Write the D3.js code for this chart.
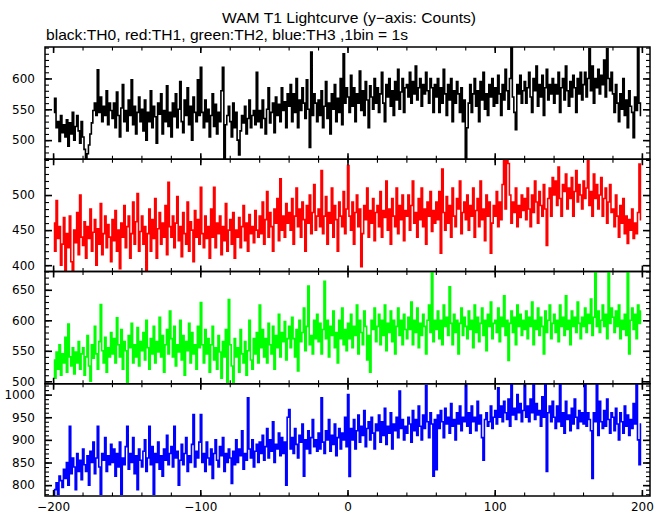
<!DOCTYPE html>
<html><head><meta charset="utf-8">
<script src="https://cdn.jsdelivr.net/npm/d3@7"></script>
<style>body{margin:0;background:#fff}svg{display:block}</style>
</head><body>
<script>
const title = "WAM T1 Lightcurve (y\u2212axis: Counts)";
const subtitle = "black:TH0, red:TH1, green:TH2, blue:TH3 ,1bin = 1s";
const timeStart = -199.5;   // centre of first 1 s bin
const binSize = 1;
const xTickLabels = [-200, -100, 0, 100, 200];

const th0 = [
545,568,520,530,498,540,512,525,505,533,490,528,510,545,500,522,540,515,495,530,
505,485,470,478,492,510,528,548,560,540,614,545,570,530,555,540,580,525,560,548,
535,560,520,578,540,505,552,590,530,548,515,565,540,598,525,555,510,545,570,530,
550,515,565,500,545,530,580,520,555,538,495,560,542,575,510,548,530,588,522,545,
505,560,538,575,520,550,595,530,512,565,540,585,525,555,500,570,545,530,598,540,
618,545,520,565,530,550,505,540,575,522,558,510,545,530,580,618,469,525,540,555,
530,505,560,520,545,500,476,515,540,528,555,510,535,565,520,540,548,525,610,530,
548,520,565,535,510,550,585,528,545,560,512,570,540,558,530,585,548,562,520,575,
555,590,530,575,545,600,520,565,548,585,560,535,598,550,488,643,540,575,560,530,
565,540,580,520,555,595,535,560,510,575,550,590,530,568,545,600,525,640,560,585,
570,545,605,555,585,530,575,560,612,548,580,540,595,565,520,588,570,550,600,560,
585,545,575,610,560,530,590,570,600,555,580,540,595,565,615,550,578,600,545,585,
590,570,610,560,595,575,620,565,585,600,555,590,575,610,580,560,600,585,545,590,
570,600,545,585,560,615,575,540,590,565,600,530,580,560,595,575,545,585,530,565,
469,520,560,590,545,575,600,555,580,530,595,565,610,550,575,540,590,570,600,555,
585,560,605,575,540,590,565,615,580,550,600,651,570,545,517,590,575,605,560,580,
595,560,585,610,570,545,600,580,620,555,590,570,605,540,585,615,565,590,575,600,
560,590,575,610,545,585,600,565,620,580,555,595,570,605,585,545,600,575,610,565,
590,610,570,600,648,580,620,560,600,585,615,575,605,590,630,570,648,600,580,610,
575,545,590,560,530,575,550,600,540,565,520,580,555,545,504,570,548,651,560,540];

const th1 = [
460,420,492,438,455,400,430,468,391,445,425,470,405,392,450,432,475,415,500,440,
428,462,410,455,438,480,420,447,465,400,452,430,488,415,445,470,425,458,440,405,
465,435,478,420,450,395,460,440,485,425,455,470,410,445,490,430,462,502,420,448,
470,430,455,391,445,480,420,465,438,495,410,452,475,430,460,440,485,415,518,455,
440,470,425,460,498,435,455,412,475,445,430,490,420,462,450,405,478,440,465,430,
511,445,425,470,438,455,410,480,440,511,425,460,445,470,415,455,435,488,420,450,
465,430,475,410,450,440,468,425,455,485,435,460,420,472,445,455,432,478,450,440,
470,445,490,430,465,505,440,475,455,420,480,460,495,435,523,450,470,440,488,460,
475,450,495,430,470,510,455,480,440,490,465,420,485,460,500,445,475,515,450,470,
480,455,535,445,470,498,430,475,460,510,440,485,465,420,490,470,455,505,445,480,
542,470,450,490,430,475,500,455,480,398,445,485,465,510,440,478,460,495,435,475,
485,455,505,440,478,468,520,450,480,430,495,470,455,510,445,485,465,500,435,478,
470,500,450,485,520,460,475,440,495,465,510,455,480,430,490,470,505,448,478,460,
490,465,505,417,537,475,450,498,460,485,440,510,470,455,495,480,520,445,475,490,
465,500,450,485,470,510,440,478,495,455,520,465,480,435,500,470,490,417,460,485,
470,505,455,490,465,515,549,480,549,545,500,460,490,475,510,455,485,468,500,478,
495,465,510,480,455,500,475,520,490,460,505,485,470,515,480,428,495,510,470,525,
500,520,485,540,495,470,515,505,530,480,510,495,525,470,505,535,490,515,500,480,
520,495,510,549,485,505,470,530,495,515,480,500,525,470,495,510,460,490,515,475,
480,455,500,470,440,485,460,495,445,470,431,465,450,480,438,460,445,475,544,465];

const th2 = [
535,505,548,520,560,510,545,530,572,515,594,540,525,555,512,548,530,565,520,545,
555,510,540,575,525,500,560,538,590,545,520,565,626,550,530,572,515,555,540,580,
545,570,530,604,560,540,585,520,565,550,498,575,555,595,530,560,540,588,525,565,
550,580,535,600,555,520,570,545,590,530,565,548,605,540,575,515,560,585,545,615,
570,540,590,525,560,548,600,535,575,510,565,550,595,530,580,545,560,520,590,555,
629,560,530,585,545,570,515,560,590,535,555,520,575,548,505,565,540,585,498,634,
560,525,498,570,540,555,515,585,545,530,565,510,550,600,535,520,570,545,580,530,
625,555,585,540,570,530,595,560,545,590,520,575,555,610,540,580,565,598,535,570,
590,555,605,570,540,585,517,600,565,580,620,550,590,656,560,575,545,600,570,610,
565,595,545,585,664,570,600,540,590,575,615,555,580,530,600,570,620,560,585,550,
595,570,610,555,590,575,625,545,600,580,560,615,590,535,575,515,600,585,620,565,
590,610,560,600,575,625,550,595,580,615,565,600,545,590,620,575,600,560,610,585,
570,605,585,630,560,600,580,620,555,595,575,610,590,545,600,625,580,680,565,600,
585,615,570,600,560,625,590,605,575,655,595,560,610,580,600,545,595,620,575,605,
590,570,615,585,600,555,625,580,605,565,595,620,575,600,550,610,590,630,570,595,
600,580,620,565,605,590,640,575,600,534,595,615,580,605,560,625,590,610,575,600,
585,615,570,605,590,630,560,600,585,620,575,605,590,545,615,580,600,625,570,595,
610,580,600,565,625,590,605,575,640,585,600,560,615,590,605,580,630,595,570,605,
590,620,580,610,595,635,575,605,678,590,615,580,600,625,590,610,570,680,595,620,
605,580,615,590,625,570,600,585,610,575,680,545,600,620,585,610,570,625,595,615];

const th3 = [
776,790,805,780,820,810,795,835,815,850,800,930,825,860,840,790,870,830,855,812,
880,845,830,865,800,875,850,895,825,860,930,840,780,870,855,905,830,865,845,890,
850,880,820,870,840,895,780,860,845,885,930,835,870,850,905,825,865,790,880,855,
840,875,900,830,860,930,845,885,780,870,850,895,835,865,820,880,855,910,845,870,
885,840,930,860,875,800,855,890,845,870,905,830,865,850,890,956,840,875,860,895,
956,850,870,830,895,860,845,880,815,870,900,855,840,885,865,905,830,870,850,880,
860,804,875,845,900,850,880,865,920,835,870,855,993,880,860,900,840,875,890,850,
895,870,910,855,885,925,860,900,875,940,850,890,880,915,865,905,870,895,800,950,
967,880,905,870,925,890,860,910,895,935,820,900,880,920,870,905,945,885,900,875,
915,880,993,895,870,920,900,945,875,910,890,935,865,905,925,880,915,900,950,885,
1000,819,925,900,945,880,920,955,895,930,910,965,885,925,940,900,950,915,880,935,
920,955,895,940,910,970,890,930,915,960,880,935,920,950,905,1008,925,945,900,930,
915,950,935,895,965,920,945,910,975,930,900,955,925,1020,940,905,960,935,820,945,
834,955,925,965,940,905,970,935,950,915,980,930,945,900,960,935,975,920,950,940,
1022,930,960,915,975,940,950,920,985,935,955,905,855,945,960,930,940,975,925,950,
965,935,1015,950,975,940,985,960,945,990,930,1022,955,970,945,1000,960,980,940,965,
1022,950,975,940,990,960,1022,945,980,955,965,930,995,950,1022,830,960,975,940,985,
950,925,975,940,1022,930,960,915,985,945,955,920,970,935,990,950,925,965,940,960,
935,1022,930,960,945,920,815,960,940,1022,910,985,940,925,965,930,990,945,915,960,
950,920,970,935,900,960,940,915,975,930,955,910,945,925,980,935,1022,900,845,935];

const seriesData = [th0, th1, th2, th3];
const seriesColors = ["#000000", "#ff0000", "#00ff00", "#0000ff"];
const yDomains = [[469, 651], [391, 551], [496, 680], [776, 1024]];
const yTickLabels = [[500, 550, 600], [400, 450, 500], [500, 550, 600, 650], [800, 850, 900, 950, 1000]];

const W = 669, H = 515;
const mLeft = 45, mRight = 650, mTop = 47, mBottom = 496;
const ph = (mBottom - mTop) / 4;

const svg = d3.select("body").append("svg").attr("width", W).attr("height", H);

svg.append("text").attr("x", 222).attr("y", 23)
  .attr("font-family", "Liberation Sans, Arial, sans-serif").attr("font-size", 14.5)
  .attr("textLength", 254).attr("lengthAdjust", "spacingAndGlyphs").text(title);
svg.append("text").attr("x", 46).attr("y", 40)
  .attr("font-family", "Liberation Sans, Arial, sans-serif").attr("font-size", 14.5)
  .attr("textLength", 362).attr("lengthAdjust", "spacingAndGlyphs").text(subtitle);

const x = d3.scaleLinear().domain([-205.5, 205.5]).range([mLeft, mRight]);
const xMinor = d3.range(-200, 201, 20);

seriesData.forEach((vals, k) => {
  const y0 = mTop + k * ph, y1 = y0 + ph;
  const y = d3.scaleLinear().domain(yDomains[k]).range([y1, y0]);
  const g = svg.append("g");
  const cid = "clip" + k;
  svg.append("clipPath").attr("id", cid).append("rect")
    .attr("x", mLeft).attr("y", y0).attr("width", mRight - mLeft).attr("height", ph);
  const line = d3.line()
    .x((d, i) => x(timeStart + i * binSize))
    .y(d => y(d))
    .curve(d3.curveStep);
  g.append("path").datum(vals).attr("clip-path", `url(#${cid})`)
    .attr("fill", "none").attr("stroke", seriesColors[k]).attr("stroke-width", 1.6)
    .attr("d", line);

  const yMinor = d3.range(Math.ceil(yDomains[k][0] / 10) * 10, yDomains[k][1] + 0.01, 10);
  const mkY = (axisFn, xpos, major, labels) => {
    const ax = axisFn(y).tickValues(major ? yTickLabels[k] : yMinor)
      .tickSizeInner(major ? -7 : -4).tickSizeOuter(0)
      .tickFormat(labels ? d3.format("d") : "");
    const ag = svg.append("g").attr("transform", `translate(${xpos},0)`).call(ax);
    ag.select(".domain").remove();
    ag.selectAll("line").attr("stroke", "#000").attr("stroke-width", major ? 1.6 : 1.1);
    ag.selectAll("text").attr("font-family", "DejaVu Sans, sans-serif").attr("font-size", 12)
      .attr("fill", "#000").attr("x", -10);
  };
  mkY(d3.axisLeft, mLeft, false, false); mkY(d3.axisLeft, mLeft, true, true);
  mkY(d3.axisRight, mRight, false, false); mkY(d3.axisRight, mRight, true, false);

  const mkX = (axisFn, ypos, major, labels) => {
    const ax = axisFn(x).tickValues(major ? xTickLabels : xMinor)
      .tickSizeInner(major ? -6 : -3.5).tickSizeOuter(0)
      .tickFormat(labels ? d3.format("d") : "");
    const ag = svg.append("g").attr("transform", `translate(0,${ypos})`).call(ax);
    ag.select(".domain").remove();
    ag.selectAll("line").attr("stroke", "#000").attr("stroke-width", major ? 1.6 : 1.1);
    ag.selectAll("text").attr("font-family", "DejaVu Sans, sans-serif").attr("font-size", 12)
      .attr("fill", "#000").attr("y", 6);
  };
  mkX(d3.axisTop, y0, false, false); mkX(d3.axisTop, y0, true, false);
  mkX(d3.axisBottom, y1, false, false); mkX(d3.axisBottom, y1, true, k === 3);

  svg.append("rect").attr("x", mLeft).attr("y", y0).attr("width", mRight - mLeft).attr("height", ph)
    .attr("fill", "none").attr("stroke", "#000").attr("stroke-width", 1.5);
});
</script>
</body></html>
